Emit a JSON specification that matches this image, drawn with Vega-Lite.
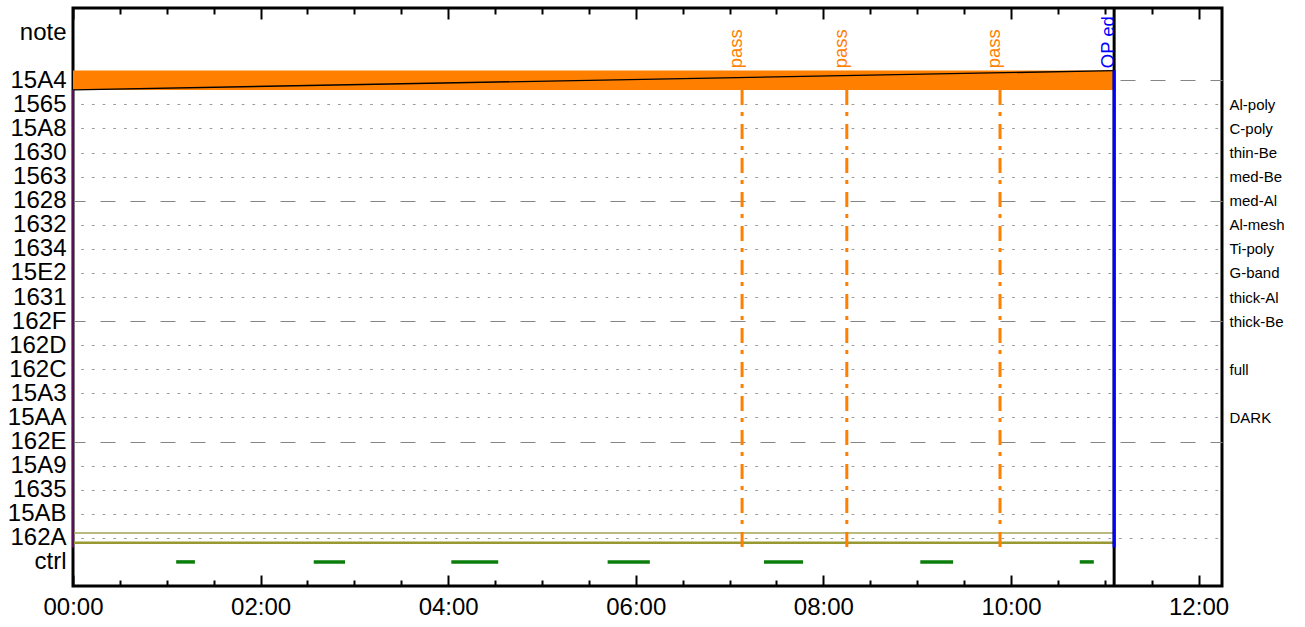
{
  "$schema": "https://vega.github.io/schema/vega-lite/v6.json",
  "width": 1149,
  "height": 578,
  "autosize": "none",
  "padding": {"left": 73, "top": 8, "right": 83, "bottom": 41},
  "background": "white",
  "view": {"stroke": "black", "strokeWidth": 3},
  "config": {"font": "Liberation Sans"},
  "datasets": {
    "run": [{"row": 20, "start": 0, "end": 666}],
    "trend": [{"t": 0, "v": 19.6}, {"t": 666, "v": 20.4}],
    "ctrl": [
      {"start": 66, "end": 78},
      {"start": 154, "end": 174},
      {"start": 242, "end": 272},
      {"start": 342, "end": 369},
      {"start": 442, "end": 467},
      {"start": 542, "end": 563},
      {"start": 644, "end": 653}
    ],
    "pass": [
      {"t": 428, "label": "pass"},
      {"t": 495, "label": "pass"},
      {"t": 593, "label": "pass"}
    ],
    "stop": [{"t": 666, "label": "OP ed"}],
    "begin": [{"t": 0}]
  },
  "resolve": {"axis": {"x": "independent", "y": "independent"}},
  "layer": [
    {
      "data": {"name": "run"},
      "mark": {"type": "rect", "color": "#ff8000"},
      "encoding": {
        "x": {
          "field": "start", "type": "quantitative",
          "scale": {"domain": [0, 735], "nice": false, "zero": false},
          "axis": {
            "orient": "bottom", "title": null, "domain": false, "grid": false,
            "values": [0, 30, 60, 90, 120, 150, 180, 210, 240, 270, 300, 330, 360, 390, 420, 450, 480, 510, 540, 570, 600, 630, 660, 690, 720],
            "labelExpr": "datum.value % 120 === 0 ? (datum.value < 600 ? '0' : '') + (datum.value / 60) + ':00' : ''",
            "tickSize": {"condition": {"test": "datum.value % 120 === 0", "value": -11}, "value": -6},
            "tickWidth": 2, "tickColor": "black",
            "labelFontSize": 24, "labelColor": "black", "labelPadding": 20,
            "labelOverlap": false, "labelFlush": false
          }
        },
        "x2": {"field": "end"},
        "y": {
          "datum": 20.4, "type": "quantitative",
          "scale": {"domain": [-1, 23], "nice": false, "zero": false},
          "axis": {
            "orient": "left", "title": null, "domain": false, "ticks": false,
            "values": [0, 1, 2, 3, 4, 5, 6, 7, 8, 9, 10, 11, 12, 13, 14, 15, 16, 17, 18, 19, 20, 22],
            "labelExpr": "['ctrl','162A','15AB','1635','15A9','162E','15AA','15A3','162C','162D','162F','1631','15E2','1634','1632','1628','1563','1630','15A8','1565','15A4','','note'][datum.value]",
            "labelFontSize": 24, "labelColor": "black", "labelPadding": 7,
            "labelOverlap": false, "labelFlush": false,
            "grid": true,
            "gridWidth": 1.2,
            "gridDashOffset": 3,
            "gridOpacity": {"condition": {"test": "datum.value >= 1 && datum.value <= 20", "value": 1}, "value": 0},
            "gridDash": {"condition": {"test": "datum.value % 5 === 0", "value": [15, 15]}, "value": [2.7, 8]},
            "gridColor": {"condition": {"test": "datum.value % 5 === 0", "value": "#858585"}, "value": "#9a9a9a"}
          }
        },
        "y2": {"datum": 19.6}
      }
    },
    {
      "data": {"name": "trend"},
      "mark": {"type": "line", "color": "black", "strokeWidth": 1.4},
      "encoding": {
        "x": {"field": "t", "type": "quantitative", "scale": {"domain": [0, 735], "nice": false, "zero": false}, "axis": null},
        "y": {"field": "v", "type": "quantitative", "scale": {"domain": [-1, 23], "nice": false, "zero": false}, "axis": null}
      }
    },
    {
      "data": {"name": "run"},
      "mark": {"type": "rule", "color": "#a5a552", "strokeWidth": 1.5},
      "encoding": {
        "x": {"field": "start", "type": "quantitative", "scale": {"domain": [0, 735], "nice": false, "zero": false}, "axis": null},
        "x2": {"field": "end"},
        "y": {"datum": 1.2, "type": "quantitative", "scale": {"domain": [-1, 23], "nice": false, "zero": false}, "axis": null}
      }
    },
    {
      "data": {"name": "run"},
      "mark": {"type": "rule", "color": "#999933", "strokeWidth": 2.5},
      "encoding": {
        "x": {"field": "start", "type": "quantitative", "scale": {"domain": [0, 735], "nice": false, "zero": false}, "axis": null},
        "x2": {"field": "end"},
        "y": {"datum": 0.8, "type": "quantitative", "scale": {"domain": [-1, 23], "nice": false, "zero": false}, "axis": null}
      }
    },
    {
      "data": {"name": "ctrl"},
      "mark": {"type": "rule", "color": "#0b7d0b", "strokeWidth": 3.5},
      "encoding": {
        "x": {
          "field": "start", "type": "quantitative",
          "scale": {"domain": [0, 735], "nice": false, "zero": false},
          "axis": {
            "orient": "top", "title": null, "domain": false, "grid": false, "labels": false,
            "values": [0, 30, 60, 90, 120, 150, 180, 210, 240, 270, 300, 330, 360, 390, 420, 450, 480, 510, 540, 570, 600, 630, 660, 690, 720],
            "tickSize": {"condition": {"test": "datum.value % 120 === 0", "value": -11}, "value": -6},
            "tickWidth": 2, "tickColor": "black"
          }
        },
        "x2": {"field": "end"},
        "y": {
          "datum": 0, "type": "quantitative",
          "scale": {"domain": [-1, 23], "nice": false, "zero": false},
          "axis": {
            "orient": "right", "title": null, "domain": false, "ticks": false, "grid": false,
            "values": [6, 8, 10, 11, 12, 13, 14, 15, 16, 17, 18, 19],
            "labelExpr": "['','','','','','','DARK','','full','','thick-Be','thick-Al','G-band','Ti-poly','Al-mesh','med-Al','med-Be','thin-Be','C-poly','Al-poly'][datum.value]",
            "labelFontSize": 15, "labelColor": "black", "labelPadding": 7,
            "labelOverlap": false, "labelFlush": false
          }
        }
      }
    },
    {
      "data": {"name": "pass"},
      "mark": {"type": "rule", "color": "#ff8000", "strokeWidth": 3, "strokeDash": [15, 7, 4, 8]},
      "encoding": {
        "x": {"field": "t", "type": "quantitative", "scale": {"domain": [0, 735], "nice": false, "zero": false}, "axis": null},
        "y": {"datum": 19.6, "type": "quantitative", "scale": {"domain": [-1, 23], "nice": false, "zero": false}, "axis": null},
        "y2": {"datum": 0.6}
      }
    },
    {
      "data": {"name": "begin"},
      "mark": {"type": "rule", "color": "#5b0f5b", "strokeWidth": 2},
      "encoding": {
        "x": {"field": "t", "type": "quantitative", "scale": {"domain": [0, 735], "nice": false, "zero": false}, "axis": null},
        "y": {"datum": 19.6, "type": "quantitative", "scale": {"domain": [-1, 23], "nice": false, "zero": false}, "axis": null},
        "y2": {"datum": 0.6}
      }
    },
    {
      "data": {"name": "stop"},
      "mark": {"type": "rule", "color": "black", "strokeWidth": 3},
      "encoding": {
        "x": {"field": "t", "type": "quantitative", "scale": {"domain": [0, 735], "nice": false, "zero": false}, "axis": null}
      }
    },
    {
      "data": {"name": "stop"},
      "mark": {"type": "rule", "color": "#0000ff", "strokeWidth": 3},
      "encoding": {
        "x": {"field": "t", "type": "quantitative", "scale": {"domain": [0, 735], "nice": false, "zero": false}, "axis": null},
        "y": {"datum": 20.4, "type": "quantitative", "scale": {"domain": [-1, 23], "nice": false, "zero": false}, "axis": null},
        "y2": {"datum": 0.6}
      }
    },
    {
      "data": {"name": "pass"},
      "mark": {"type": "text", "color": "#ff8000", "fontSize": 18.5, "angle": 270, "align": "left", "baseline": "alphabetic"},
      "encoding": {
        "x": {"field": "t", "type": "quantitative", "scale": {"domain": [0, 735], "nice": false, "zero": false}, "axis": null},
        "y": {"datum": 20.5, "type": "quantitative", "scale": {"domain": [-1, 23], "nice": false, "zero": false}, "axis": null},
        "text": {"field": "label"}
      }
    },
    {
      "data": {"name": "stop"},
      "mark": {"type": "text", "color": "#0000ff", "fontSize": 18.5, "angle": 270, "align": "left", "baseline": "alphabetic"},
      "encoding": {
        "x": {"field": "t", "type": "quantitative", "scale": {"domain": [0, 735], "nice": false, "zero": false}, "axis": null},
        "y": {"datum": 20.5, "type": "quantitative", "scale": {"domain": [-1, 23], "nice": false, "zero": false}, "axis": null},
        "text": {"field": "label"}
      }
    }
  ]
}
